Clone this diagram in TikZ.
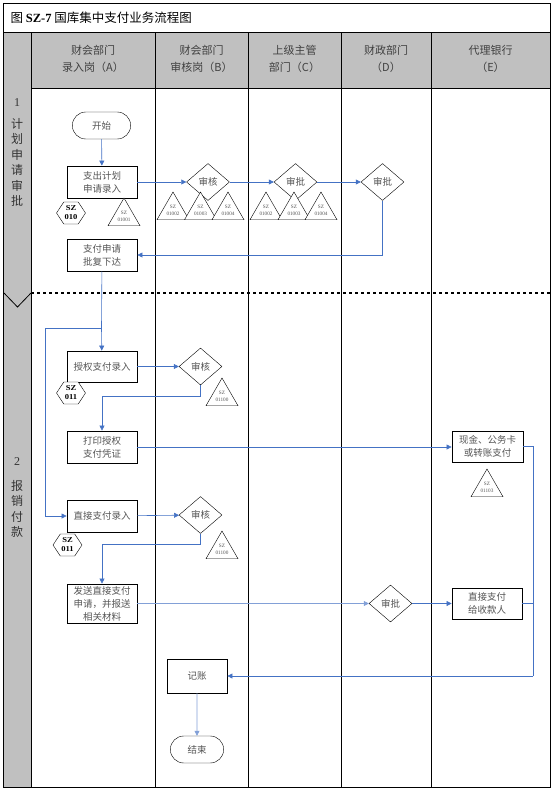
\documentclass[tikz,border=0pt]{standalone}
\usepackage{fontspec}
\setmainfont{Liberation Serif}
\newfontfamily\cjk{Noto Sans CJK SC}
\usetikzlibrary{shapes.geometric,shapes.misc,arrows.meta}
\definecolor{flowblue}{RGB}{68,114,196}
\definecolor{flowpale}{RGB}{130,160,215}
\definecolor{lanegray}{RGB}{192,192,192}
\definecolor{txtgray}{RGB}{85,85,85}
\begin{document}
\begin{tikzpicture}[x=1pt, y=-1pt, font=\cjk\fontsize{9.5}{13}\selectfont,
  box/.style={draw, thick, fill=white, text=txtgray, align=center, minimum width=70pt, minimum height=32pt, inner sep=1pt},
  term/.style={draw, rounded rectangle, text=txtgray, minimum width=65pt, minimum height=27pt},
  check/.style={draw, diamond, fill=white, text=txtgray, inner sep=0pt, minimum width=43pt, minimum height=37pt},
  docref/.style={draw, fill=white, regular polygon, regular polygon sides=3, minimum size=37pt, inner sep=0pt, align=center, text=txtgray, font=\rmfamily\fontsize{5.2}{6.5}\selectfont},
  sznum/.style={draw, fill=white, regular polygon, regular polygon sides=6, minimum size=25.4pt, inner sep=0pt, xscale=1.14, align=center, font=\rmfamily\bfseries\fontsize{7.5}{9}\selectfont},
  lanehead/.style={align=center, text=black!75, font=\cjk\fontsize{11}{17}\selectfont},
  stage/.style={align=center, text=black!80, font=\cjk\fontsize{12}{15.5}\selectfont},
  flow/.style={flowblue, semithick, -{Triangle[length=5pt,width=5pt]}},
  wire/.style={flowblue, semithick}]
  \useasboundingbox (0,0) rectangle (553,790);
  \fill[lanegray] (31,32) rectangle (550,88);
  \fill[lanegray] (4,32) rectangle (31,787);
  \draw[thick] (3,3) rectangle (550,787);
  \draw[thick] (3,32) -- (550,32);
  \draw[thick] (31,88) -- (550,88);
  \foreach \x in {31,155,248,341,431} \draw[thick] (\x,32) -- (\x,787);
  \draw[very thick, dashed] (31,293) -- (550,293);
  \draw[thick] (4,293) -- (17.5,307) -- (31,293);
  \node[anchor=west, font=\cjk\fontsize{12.5}{14}\selectfont] (title) at (7,17.5) {图 {\rmfamily\bfseries SZ-7} 国库集中支付业务流程图};
  \foreach \x/\n/\t in {93/A/{财会部门\\录入岗（A）}, 201.5/B/{财会部门\\审核岗（B）}, 294.5/C/{上级主管\\部门（C）}, 386/D/{财政部门\\（D）}, 490.5/E/{代理银行\\（E）}}
    \node[lanehead] (head\n) at (\x,58.5) {\t};
  \node[stage, font=\rmfamily\fontsize{12}{14}\selectfont] (num1) at (17,103) {1};
  \node[stage] (stage1) at (17,162.5) {计\\划\\申\\请\\审\\批};
  \node[stage, font=\rmfamily\fontsize{12}{14}\selectfont] (num2) at (17,462) {2};
  \node[stage] (stage2) at (17,509) {报\\销\\付\\款};

  \node[term] (start) at (101.5,125.5) {开始};
  \node[box] (plan) at (102,182) {支出计划\\申请录入};
  \node[sznum] (sz1) at (71,213) {SZ\\010};
  \node[docref] (t1) at (124,216.5) {SZ\\01001};
  \node[check] (chkB1) at (208,182) {审核};
  \node[check] (apvC1) at (295.5,182) {审批};
  \node[check] (apvD1) at (382.5,182) {审批};
  \foreach \x/\n in {173/01002, 200.5/01003, 228/01004}
    \node[docref] (tb\n) at (\x,210.5) {SZ\\\n};
  \foreach \x/\n in {266/01002, 294/01003, 321/01004}
    \node[docref] (tc\n) at (\x,210.5) {SZ\\\n};
  \node[box] (reply) at (102,255) {支付申请\\批复下达};

  \coordinate (fork) at (101.5,328);
  \coordinate (bypass) at (45,328);
  \node[box, minimum height=31pt] (auth) at (102,366.5) {授权支付录入};
  \node[sznum] (sz2) at (71,393) {SZ\\011};
  \node[check] (chkB2) at (200.5,366.5) {审核};
  \node[docref] (t2) at (222,396.5) {SZ\\01100};
  \node[box] (print) at (102,447) {打印授权\\支付凭证};
  \node[box, minimum width=71pt, minimum height=31pt] (cash) at (487.5,446.5) {现金、公务卡\\或转账支付};
  \node[docref] (t3) at (487,487.5) {SZ\\01103};
  \node[box] (direct) at (102,516) {直接支付录入};
  \node[sznum] (sz3) at (67.5,545) {SZ\\011};
  \node[check] (chkB3) at (200.5,515) {审核};
  \node[docref] (t4) at (222,549.5) {SZ\\01100};
  \node[box, minimum height=39pt] (send) at (102,603.5) {发送直接支付\\申请，并报送\\相关材料};
  \node[check] (apvD2) at (390.5,603.5) {审批};
  \node[box, minimum height=31pt] (payee) at (487,603.5) {直接支付\\给收款人};
  \coordinate (rail) at (533,676);
  \node[box, minimum width=60pt, minimum height=34pt] (book) at (197,676) {记账};
  \node[term, minimum width=60pt] (finish) at (197,749.5) {结束};

  \draw[flow] (start) -- (plan);
  \draw[flow] (plan) -- (chkB1);
  \draw[flow] (chkB1) -- (apvC1);
  \draw[flow] (apvC1) -- (apvD1);
  \draw[flow] (apvD1.south) |- (reply.east);
  \draw[wire] (reply) -- (fork);
  \draw[flow] (fork) -- (auth);
  \draw[flow] (fork) -- (bypass) |- (direct.west);
  \draw[flow] (auth) -- (chkB2);
  \draw[flow] (chkB2.south) -- ++(0,11) -| (print.north);
  \draw[flow] (print) -- (cash.west |- print.east);
  \draw[flow] (direct) -- (chkB3);
  \draw[flow] (chkB3.south) -- ++(0,11) -| (send.north);
  \draw[flow, flowpale] (send) -- (apvD2);
  \draw[flow] (apvD2) -- (payee);
  \draw[wire] (cash.east) -| (rail);
  \draw[wire] (payee.east) -- (payee.east -| rail);
  \draw[flow] (rail) -- (book);
  \draw[flow, flowpale] (book) -- (finish);
\end{tikzpicture}
\end{document}
